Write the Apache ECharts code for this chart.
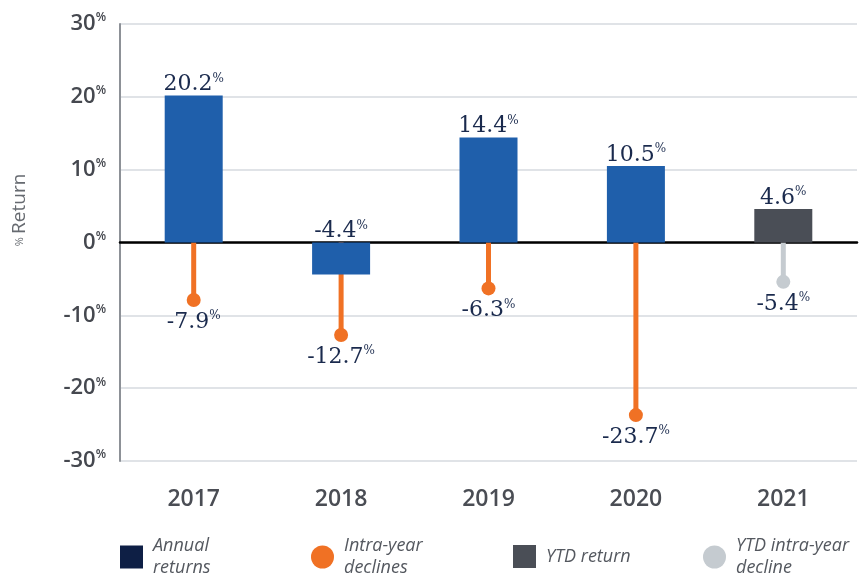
<!DOCTYPE html>
<html>
<head>
<meta charset="utf-8">
<script src="https://cdn.jsdelivr.net/npm/echarts@6/dist/echarts.min.js"></script>
<style>
  html, body { margin: 0; padding: 0; background: #fff; }
  #main { width: 861px; height: 576px; }
</style>
</head>
<body>
<div id="main"></div>
<script>
// data
var years = ['2017', '2018', '2019', '2020', '2021'];
var annualReturns = [20.2, -4.4, 14.4, 10.5, '-'];
var ytdReturn = ['-', '-', '-', '-', 4.6];
var intraYearDeclines = [-7.9, -12.7, -6.3, -23.7, '-'];
var ytdDecline = ['-', '-', '-', '-', -5.4];
var yTicks = { min: -30, max: 30, interval: 10 };

var navy = '#1a2a4d';
var blue = '#1f5fab';
var orange = '#f07124';
var darkGray = '#4a4e56';
var lightGray = '#c5cbd0';

var myChart = echarts.init(document.getElementById('main'));

// label like "20.2%" with small raised %
function pctLabel(p) {
  return '{v|' + p.value.toFixed(1) + '}{p|%}';
}
var valueRich = {
  v: { fontFamily: 'DejaVu Serif', fontSize: 22, color: navy, lineHeight: 24 },
  p: { fontFamily: 'DejaVu Serif', fontSize: 12, color: navy, lineHeight: 14, verticalAlign: 'top' }
};

function legendAt(left, top, name, icon, color, text) {
  return {
    left: left, top: top,
    padding: 0,
    orient: 'horizontal',
    selectedMode: false,
    itemWidth: 23, itemHeight: 23,
    itemGap: 0,
    data: [{ name: name, icon: icon, itemStyle: { color: color } }],
    formatter: function () { return text; },
    textStyle: {
      fontFamily: 'Open Sans', fontStyle: 'italic', fontSize: 18,
      color: '#54585f', lineHeight: 22, padding: [0, 0, 0, 5]
    }
  };
}

var option = {
  animation: false,
  grid: { left: 120, right: 4, top: 24, bottom: 115 },
  graphic: [{
    type: 'text',
    x: 20, y: 210,
    rotation: Math.PI / 2,
    style: {
      text: '{p|%} {t|Return}',
      align: 'center',
      verticalAlign: 'middle',
      rich: {
        p: { fontFamily: 'Open Sans', fontSize: 11, fill: '#666a70' },
        t: { fontFamily: 'Open Sans', fontSize: 19, fill: '#666a70' }
      }
    }
  }],
  legend: [
    legendAt(120, 535, 'Annual returns', 'rect', '#0e1f45', 'Annual\nreturns'),
    legendAt(311, 535, 'Intra-year declines', 'circle', orange, 'Intra-year\ndeclines'),
    legendAt(513, 545, 'YTD return', 'rect', darkGray, 'YTD return'),
    legendAt(703, 535, 'YTD intra-year decline', 'circle', lightGray, 'YTD intra-year\ndecline')
  ],
  xAxis: [
    {
      type: 'category',
      data: years,
      position: 'bottom',
      axisLine: { show: false, onZero: false },
      axisTick: { show: false },
      axisLabel: {
        margin: 27,
        fontFamily: 'Open Sans', fontWeight: 600, fontSize: 23, color: '#4a4d54'
      }
    },
    {
      // zero line
      type: 'category',
      data: years,
      position: 'top',
      axisLine: { show: true, onZero: true, lineStyle: { color: '#000', width: 2.5 } },
      axisTick: { show: false },
      axisLabel: { show: false }
    }
  ],
  yAxis: {
    type: 'value',
    min: yTicks.min, max: yTicks.max, interval: yTicks.interval,
    axisLine: { show: true, lineStyle: { color: '#8d9197', width: 2 } },
    axisTick: { show: false },
    splitLine: { lineStyle: { color: '#d6dadf', width: 1.5 } },
    axisLabel: {
      margin: 14,
      formatter: function (v) { return '{n|' + v + '}{p|%}'; },
      rich: {
        n: { fontFamily: 'Open Sans', fontWeight: 600, fontSize: 22, color: '#45484f', lineHeight: 24 },
        p: { fontFamily: 'Open Sans', fontWeight: 600, fontSize: 12, color: '#45484f', lineHeight: 14, verticalAlign: 'top' }
      }
    }
  },
  series: [
    {
      name: 'Intra-year declines',
      type: 'bar',
      xAxisIndex: 1,
      barWidth: 5,
      barGap: '-100%',
      z: 1,
      itemStyle: { color: orange },
      data: intraYearDeclines
    },
    {
      name: 'YTD intra-year decline',
      type: 'bar',
      xAxisIndex: 1,
      barWidth: 5,
      barGap: '-100%',
      z: 1,
      itemStyle: { color: lightGray },
      data: ytdDecline
    },
    {
      name: 'Annual returns',
      type: 'bar',
      xAxisIndex: 0,
      barWidth: 58,
      barGap: '-100%',
      z: 3,
      itemStyle: { color: blue },
      label: { show: true, position: 'top', distance: -1, formatter: pctLabel, rich: valueRich },
      data: annualReturns
    },
    {
      name: 'YTD return',
      type: 'bar',
      xAxisIndex: 0,
      barWidth: 58,
      barGap: '-100%',
      z: 3,
      itemStyle: { color: darkGray },
      label: { show: true, position: 'top', distance: -1, formatter: pctLabel, rich: valueRich },
      data: ytdReturn
    },
    {
      name: 'Intra-year declines',
      type: 'scatter',
      xAxisIndex: 1,
      symbolSize: 14,
      z: 4,
      itemStyle: { color: orange, opacity: 1 },
      label: { show: true, position: 'bottom', distance: 3, formatter: pctLabel, rich: valueRich },
      data: intraYearDeclines
    },
    {
      name: 'YTD intra-year decline',
      type: 'scatter',
      xAxisIndex: 1,
      symbolSize: 14,
      z: 4,
      itemStyle: { color: lightGray, opacity: 1 },
      label: { show: true, position: 'bottom', distance: 3, formatter: pctLabel, rich: valueRich },
      data: ytdDecline
    }
  ]
};

myChart.setOption(option);
</script>
</body>
</html>
